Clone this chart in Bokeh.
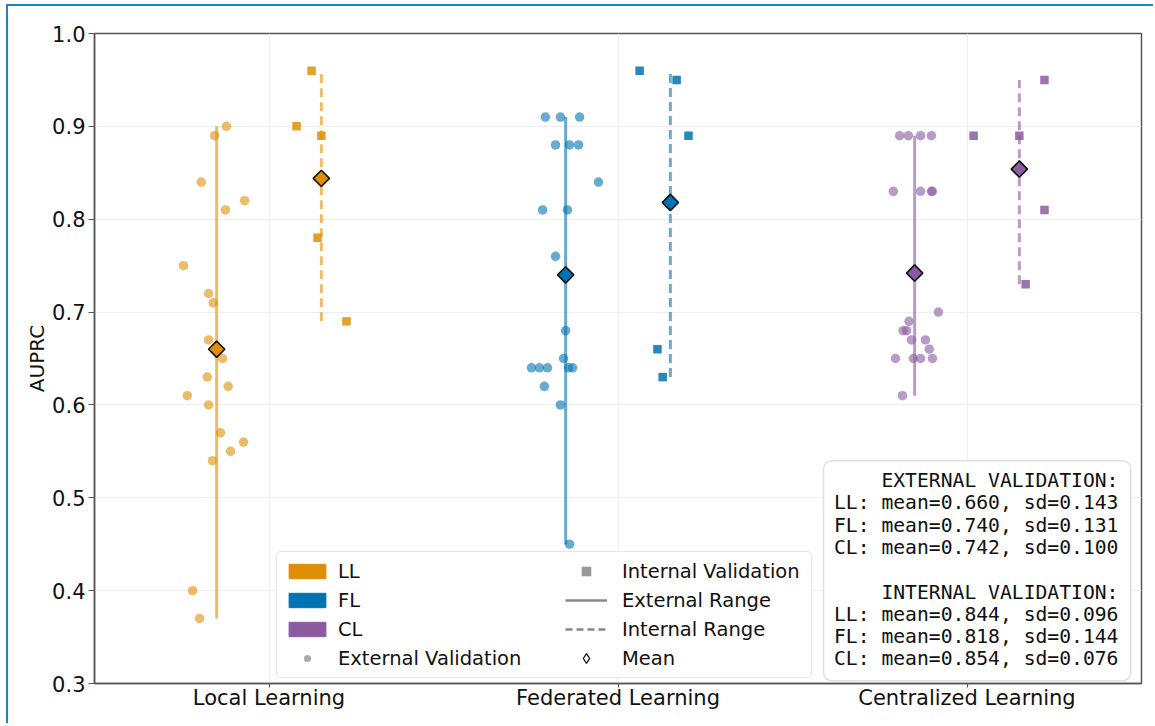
import numpy as np
from bokeh.plotting import figure
from bokeh.models import (Range1d, FixedTicker, PrintfTickFormatter, Legend, LegendItem,
                          BoxAnnotation, Label)
from bokeh.embed import file_html
from bokeh.resources import INLINE

# ---------------- data ----------------
categories = ["Local Learning", "Federated Learning", "Centralized Learning"]
short_names = ["LL", "FL", "CL"]
colors = ["#DE8F05", "#0173B2", "#8B5A9F"]

ll_ext = [0.90, 0.89, 0.84, 0.82, 0.81, 0.75, 0.72, 0.71, 0.67, 0.65,
          0.63, 0.62, 0.61, 0.60, 0.57, 0.56, 0.55, 0.54, 0.40, 0.37]
ll_ext_jitter = [-0.122, -0.156, -0.194, -0.070, -0.125, -0.245, -0.173, -0.160, -0.173, -0.133,
                 -0.177, -0.117, -0.234, -0.173, -0.139, -0.073, -0.110, -0.162, -0.219, -0.199]
ll_int = [0.96, 0.90, 0.89, 0.78, 0.69]
ll_int_jitter = [0.122, 0.079, 0.150, 0.139, 0.222]

fl_ext = [0.91, 0.91, 0.91, 0.88, 0.88, 0.88, 0.84, 0.81, 0.81, 0.76,
          0.68, 0.65, 0.64, 0.64, 0.64, 0.64, 0.64, 0.62, 0.60, 0.45]
fl_ext_jitter = [-0.208, -0.165, -0.110, -0.179, -0.139, -0.113, -0.056, -0.216, -0.145, -0.179,
                 -0.150, -0.156, -0.248, -0.225, -0.202, -0.142, -0.130, -0.211, -0.165, -0.139]
fl_int = [0.96, 0.95, 0.89, 0.66, 0.63]
fl_int_jitter = [0.062, 0.168, 0.202, 0.113, 0.128]

cl_ext = [0.89, 0.89, 0.89, 0.89, 0.83, 0.83, 0.83, 0.83, 0.70, 0.69,
          0.68, 0.68, 0.67, 0.67, 0.66, 0.65, 0.65, 0.65, 0.65, 0.61]
cl_ext_jitter = [-0.193, -0.168, -0.133, -0.102, -0.211, -0.133, -0.102, -0.099, -0.082, -0.166,
                 -0.183, -0.173, -0.159, -0.119, -0.108, -0.205, -0.154, -0.133, -0.099, -0.185]
cl_int = [0.89, 0.89, 0.95, 0.81, 0.73]
cl_int_jitter = [0.019, 0.150, 0.222, 0.222, 0.168]

ext_mean = [0.660, 0.740, 0.742]
ext_sd = [0.143, 0.131, 0.100]
int_mean = [0.844, 0.818, 0.854]
int_sd = [0.096, 0.144, 0.076]

y_ticks = [0.3, 0.4, 0.5, 0.6, 0.7, 0.8, 0.9, 1.0]

ext_sets = [(ll_ext, ll_ext_jitter), (fl_ext, fl_ext_jitter), (cl_ext, cl_ext_jitter)]
int_sets = [(ll_int, ll_int_jitter), (fl_int, fl_int_jitter), (cl_int, cl_int_jitter)]

FONT = "DejaVu Sans"

# ---------------- figure ----------------
p = figure(width=1147, height=719, output_backend="svg", toolbar_location=None,
           x_range=Range1d(-0.5, 2.5), y_range=Range1d(0.3, 1.0),
           min_border_left=86, min_border_right=14, min_border_top=27, min_border_bottom=42)
p.styles = {"margin-left": "6px", "margin-top": "4px",
            "border-left": "2px solid #1a86c8", "border-top": "2px solid #1a86c8"}

p.background_fill_color = "white"
p.border_fill_color = "white"
p.outline_line_color = "#555555"
p.outline_line_width = 1.5
p.outline_line_alpha = 1.0

p.xaxis.ticker = FixedTicker(ticks=list(range(len(categories))))
p.xaxis.major_label_overrides = {i: c for i, c in enumerate(categories)}
p.yaxis.ticker = FixedTicker(ticks=y_ticks)
p.yaxis.formatter = PrintfTickFormatter(format="%.1f")
p.xgrid.ticker = FixedTicker(ticks=list(range(len(categories))))
p.ygrid.ticker = FixedTicker(ticks=y_ticks)
p.grid.grid_line_color = "#eeeeee"
p.grid.grid_line_width = 1

for ax in (p.xaxis, p.yaxis):
    ax.axis_line_color = "#555555"
    ax.axis_line_width = 1.5
    ax.major_tick_line_color = "#555555"
    ax.major_tick_line_width = 1.2
    ax.minor_tick_line_color = None
    ax.major_tick_in = 0
    ax.major_label_text_font = FONT
    ax.major_label_text_font_size = "21px"
    ax.major_label_text_color = "#111111"
p.yaxis.major_tick_out = 6
p.xaxis.major_tick_out = 4
p.yaxis.major_label_standoff = 3
p.xaxis.major_label_standoff = -2
p.yaxis.axis_label = "AUPRC"
p.yaxis.axis_label_text_font = FONT
p.yaxis.axis_label_text_font_size = "20px"
p.yaxis.axis_label_text_font_style = "normal"
p.yaxis.axis_label_text_color = "#111111"
p.yaxis.axis_label_standoff = 0

# ---------------- glyphs ----------------
for i, ((ev, ej), (iv, ij), c) in enumerate(zip(ext_sets, int_sets, colors)):
    ex = [i + d for d in ej]
    ix = [i + d for d in ij]
    p.scatter(x=ex, y=ev, marker="circle", size=9.5, fill_color=c, fill_alpha=0.6,
              line_color=None)
    p.scatter(x=ix, y=iv, marker="square", size=8.5, fill_color=c, fill_alpha=0.85,
              line_color=None)
    p.segment(x0=[i - 0.15], y0=[min(ev)], x1=[i - 0.15], y1=[max(ev)],
              line_color=c, line_alpha=0.6, line_width=3)
    p.segment(x0=[i + 0.15], y0=[min(iv)], x1=[i + 0.15], y1=[max(iv)],
              line_color=c, line_alpha=0.6, line_width=3, line_dash="9 5")
    p.scatter(x=[i - 0.15, i + 0.15], y=[ext_mean[i], int_mean[i]], marker="square",
              angle=np.pi / 4, size=11.5, fill_color=c, line_color="#111111", line_width=1.6)

# ---------------- legend (proxy renderers, nothing drawn in the plot) ----------------
nan1 = np.array([np.nan])
nan2 = np.array([np.nan, np.nan])
patch_r = [p.quad(left=nan1, right=nan1, top=nan1, bottom=nan1, fill_color=c, line_color=c)
           for c in colors]
ext_r = p.scatter(x=nan1, y=nan1, marker="circle", fill_color="#aaaaaa", line_color=None)
int_r = p.scatter(x=nan1, y=nan1, marker="square", fill_color="#999999", line_color=None)
exr_r = p.line(x=nan2, y=nan2, line_color="#888888", line_width=2.5)
inr_r = p.line(x=nan2, y=nan2, line_color="#888888", line_width=2.5, line_dash="7 4")
mean_r = p.scatter(x=nan1, y=nan1, marker="diamond", fill_color="white",
                   line_color="#111111", line_width=1.3)

col1 = [LegendItem(label=s, renderers=[r]) for s, r in zip(short_names, patch_r)]
col1 += [LegendItem(label="External Validation", renderers=[ext_r])]
col2 = [LegendItem(label="Internal Validation", renderers=[int_r]),
        LegendItem(label="External Range", renderers=[exr_r]),
        LegendItem(label="Internal Range", renderers=[inr_r]),
        LegendItem(label="Mean", renderers=[mean_r])]

common = dict(label_height=24, spacing=5, padding=7, margin=0,
              label_text_font=FONT, label_text_font_size="19.5px",
              label_text_color="#111111")
legend1 = Legend(items=col1, location=(182, 5), label_width=466,
                 glyph_width=46, glyph_height=18, label_standoff=8,
                 border_line_color="#cccccc", border_line_width=1,
                 background_fill_color="white", background_fill_alpha=0.85, **common)
legend2 = Legend(items=col2, location=(471, 13), glyph_width=42, glyph_height=24,
                 label_standoff=15,
                 border_line_color=None, background_fill_alpha=0.0, **common)
if "border_radius" in Legend.properties():
    legend1.border_radius = 5
p.add_layout(legend1)
p.add_layout(legend2)

# ---------------- stats box ----------------
box = BoxAnnotation(left=1.589, right=2.469, bottom=0.303, top=0.540,
                    fill_color="white", fill_alpha=0.9,
                    line_color="#999999", line_width=1.5)
if "border_radius" in BoxAnnotation.properties():
    box.border_radius = 8
p.add_layout(box)

stat_lines = ["EXTERNAL VALIDATION:"]
stat_lines += [f"{s}: mean={m:.3f}, sd={d:.3f}" for s, m, d in zip(short_names, ext_mean, ext_sd)]
stat_lines += [""]
stat_lines += ["INTERNAL VALIDATION:"]
stat_lines += [f"{s}: mean={m:.3f}, sd={d:.3f}" for s, m, d in zip(short_names, int_mean, int_sd)]

for k, t in enumerate(stat_lines):
    if not t:
        continue
    p.add_layout(Label(x=2.434, y=0.5186, y_offset=-22.3 * k, text=t,
                       text_align="right", text_baseline="middle",
                       text_font="DejaVu Sans Mono", text_font_size="19.7px",
                       text_color="#111111"))

open("out.html", "w").write(file_html(p, INLINE))
